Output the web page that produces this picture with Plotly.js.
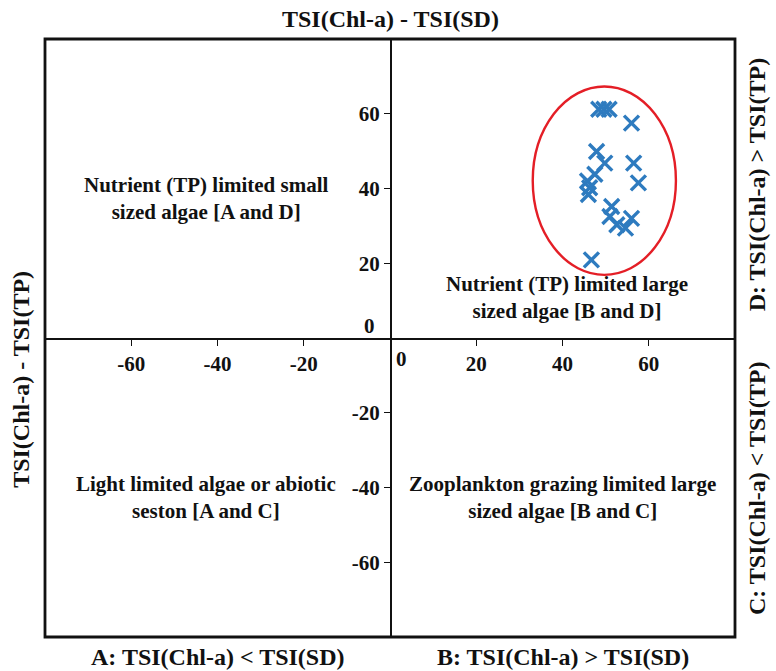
<!DOCTYPE html>
<html>
<head>
<meta charset="utf-8">
<script src="https://cdn.plot.ly/plotly-3.0.1.min.js"></script>
<style>body{margin:0;background:#fff;} #chart{width:776px;height:671px;}</style>
</head>
<body>
<div id="chart"></div>
<script>
// Data: TSI(Chl-a) - TSI(SD) (x) vs TSI(Chl-a) - TSI(TP) (y)
const xDiffSD = [48.4, 49.6, 50.8, 56.0, 47.9, 49.8, 56.5, 57.6, 47.5, 45.8, 46.3, 46.0, 51.4, 51.0, 56.0, 52.6, 54.6, 46.7];
const yDiffTP = [61.2, 61.2, 61.2, 57.5, 49.9, 46.8, 46.8, 41.5, 43.8, 42.0, 40.2, 38.4, 35.2, 32.5, 32.0, 30.3, 29.4, 20.9];
const tickValues = [-60, -40, -20, 20, 40, 60];
const tickLabels = ['-60', '-40', '-20', '20', '40', '60'];
const axisRange = [-80, 80];
// highlighted cluster extent (data units)
const ellipseX = [33.1, 66.3];
const ellipseY = [16.9, 67.3];

const serif = 'Liberation Serif, Times New Roman, serif';
const tickFont = {family: serif, size: 21, color: '#111', weight: 'bold'};
const labelFont = {family: serif, size: 21, color: '#111', weight: 'bold'};
const titleFont = {family: serif, size: 24, color: '#111', weight: 'bold'};

const trace = {
  x: xDiffSD, y: yDiffTP, type: 'scatter', mode: 'markers',
  marker: {symbol: 'x-thin', size: 15, color: '#2e7bbf', line: {width: 3.4, color: '#2e7bbf'}},
  hoverinfo: 'x+y', showlegend: false
};

const axisCommon = {
  range: axisRange, anchor: 'free', position: 0.5,
  tickmode: 'array', tickvals: tickValues, ticktext: tickLabels,
  ticks: 'outside', ticklen: 6, tickwidth: 1.3, tickcolor: '#111',
  showgrid: false, zeroline: false, showline: true, linewidth: 1.6, linecolor: '#111',
  tickfont: tickFont, fixedrange: true
};

const layout = {
  width: 776, height: 671,
  margin: {l: 45, r: 41, t: 39, b: 34},
  paper_bgcolor: '#fff', plot_bgcolor: '#fff',
  xaxis: Object.assign({}, axisCommon),
  yaxis: Object.assign({}, axisCommon),
  shapes: [
    {type: 'rect', xref: 'paper', yref: 'paper', x0: 0, x1: 1, y0: 0, y1: 1,
     line: {color: '#111', width: 2.8}, layer: 'above'},
    {type: 'circle', xref: 'x', yref: 'y', x0: ellipseX[0], x1: ellipseX[1], y0: ellipseY[0], y1: ellipseY[1],
     line: {color: '#e41e26', width: 2.4}}
  ],
  annotations: [
    // zero labels
    {xref: 'x', yref: 'y', x: 0, y: 0, text: '0', showarrow: false, xanchor: 'right', yanchor: 'middle', xshift: -13, yshift: 12, font: tickFont},
    {xref: 'x', yref: 'y', x: 0, y: 0, text: '0', showarrow: false, xanchor: 'left', yanchor: 'middle', xshift: 4, yshift: -21, font: tickFont},
    // quadrant descriptions
    {xref: 'x', yref: 'y', x: -42.6, y: 37.2, text: 'Nutrient (TP) limited small<br>sized algae [A and D]', showarrow: false, align: 'center', xanchor: 'center', yanchor: 'middle', font: labelFont},
    {xref: 'x', yref: 'y', x: 41.0, y: 10.8, text: 'Nutrient (TP) limited large<br>sized algae [B and D]', showarrow: false, align: 'center', xanchor: 'center', yanchor: 'middle', font: labelFont},
    {xref: 'x', yref: 'y', x: -42.6, y: -42.7, text: 'Light limited algae or abiotic<br>seston [A and C]', showarrow: false, align: 'center', xanchor: 'center', yanchor: 'middle', font: labelFont},
    {xref: 'x', yref: 'y', x: 40.1, y: -42.7, text: 'Zooplankton grazing limited large<br>sized algae [B and C]', showarrow: false, align: 'center', xanchor: 'center', yanchor: 'middle', font: labelFont},
    // titles
    {xref: 'paper', yref: 'paper', x: 0.5, y: 1, yshift: 20, xanchor: 'center', yanchor: 'middle', text: 'TSI(Chl-a) - TSI(SD)', showarrow: false, font: titleFont},
    {xref: 'paper', yref: 'paper', x: 0.25, y: 0, yshift: -20, xanchor: 'center', yanchor: 'middle', text: 'A: TSI(Chl-a) &lt; TSI(SD)', showarrow: false, font: titleFont},
    {xref: 'paper', yref: 'paper', x: 0.75, y: 0, yshift: -20, xanchor: 'center', yanchor: 'middle', text: 'B: TSI(Chl-a) &gt; TSI(SD)', showarrow: false, font: titleFont},
    {xref: 'paper', yref: 'paper', x: 0, y: 0.43, xshift: -24, xanchor: 'center', yanchor: 'middle', text: 'TSI(Chl-a) - TSI(TP)', textangle: -90, showarrow: false, font: titleFont},
    {xref: 'paper', yref: 'paper', x: 1, y: 0.757, xshift: 22, xanchor: 'center', yanchor: 'middle', text: 'D: TSI(Chl-a) &gt; TSI(TP)', textangle: -90, showarrow: false, font: titleFont},
    {xref: 'paper', yref: 'paper', x: 1, y: 0.249, xshift: 22, xanchor: 'center', yanchor: 'middle', text: 'C: TSI(Chl-a) &lt; TSI(TP)', textangle: -90, showarrow: false, font: titleFont}
  ]
};

Plotly.newPlot('chart', [trace], layout, {displayModeBar: false, staticPlot: true});
</script>
</body>
</html>
